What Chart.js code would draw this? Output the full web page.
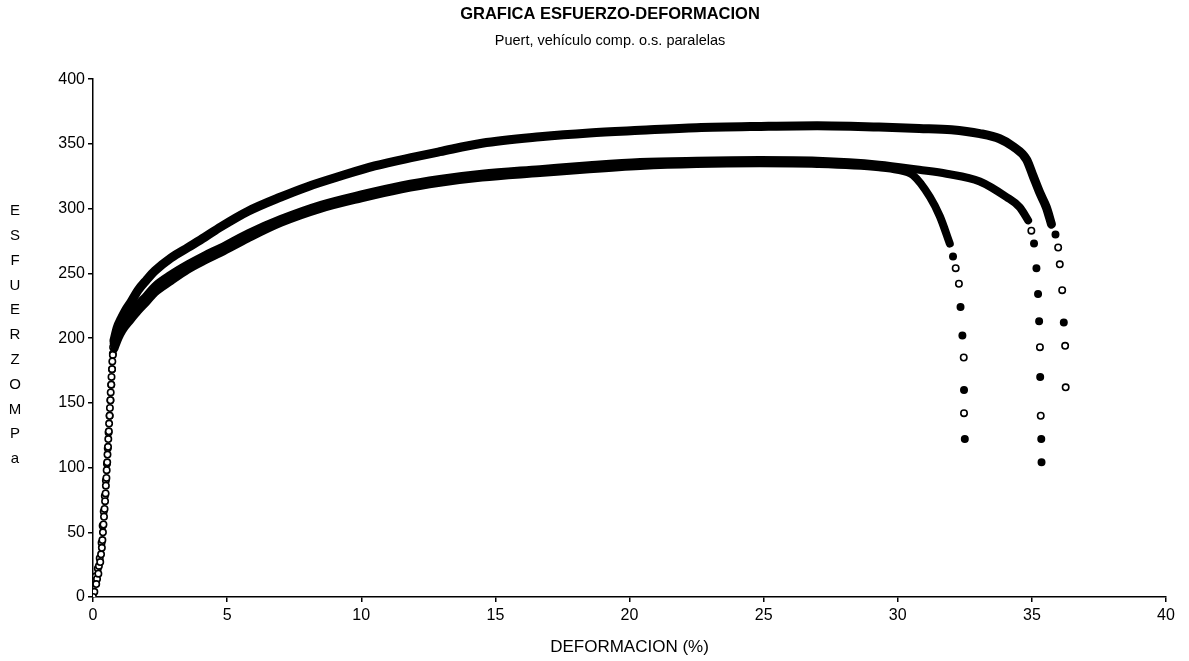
<!DOCTYPE html>
<html>
<head>
<meta charset="utf-8">
<title>Grafica esfuerzo-deformacion</title>
<script src="https://cdn.jsdelivr.net/npm/chart.js@4.4.0/dist/chart.umd.min.js"></script>
<style>
  html, body { margin: 0; padding: 0; background: #fff; }
  #contenedor { width: 1189px; height: 661px; }
</style>
</head>
<body>
<div id="contenedor"><canvas id="myChartEsfuerzo"></canvas></div>
<script>
// ---- probeta A (curva superior) ----
var inicioDefA = [0.0, 0.12, 0.2, 0.27, 0.33, 0.37, 0.41, 0.45, 0.48, 0.51, 0.54, 0.57, 0.6, 0.63, 0.66, 0.69, 0.72, 0.75];
var inicioEsfA = [0, 10, 18, 27, 38, 50, 62, 74, 86, 98, 110, 122, 134, 146, 158, 170, 182, 193];
var defA = [0.78, 0.9, 1.05, 1.2, 1.42, 1.68, 2.0, 2.31, 2.91, 3.54, 4.17, 4.77, 5.78, 7.0, 8.0, 9.2, 10.5, 12.0, 12.93, 14.5, 16.66, 18.5, 20.4, 22.5, 24.9, 27.0, 29.3, 30.8, 32.0, 33.06, 33.8, 34.3, 34.8, 35.05, 35.3, 35.54, 35.73];
var esfA = [198, 208, 215, 221, 228, 237, 245, 252, 262, 270, 278, 286, 298, 309, 317, 325, 333, 340, 344, 350.5, 355.5, 358.5, 360.5, 362.5, 363.5, 364, 363, 362, 361, 358, 354, 348, 338, 325, 312, 301, 288];
var colaDefA = [35.88, 35.98, 36.04, 36.13, 36.19, 36.24, 36.26];
var colaEsfA = [280, 270, 257, 237, 212, 194, 162];

// ---- probeta B ----
var inicioDefB = [0.05, 0.15, 0.22, 0.3, 0.35, 0.39, 0.43, 0.47, 0.5, 0.53, 0.56, 0.59, 0.62, 0.65, 0.68, 0.71, 0.74, 0.77];
var inicioEsfB = [4, 14, 24, 33, 44, 56, 68, 80, 92, 104, 116, 128, 140, 152, 164, 176, 187, 196];
var defB = [0.8, 0.95, 1.1, 1.4, 1.68, 2.0, 2.3, 2.9, 3.54, 4.17, 4.77, 5.78, 7.0, 8.5, 10.0, 11.5, 12.93, 14.5, 16.66, 18.5, 20.4, 22.5, 24.86, 27.0, 29.3, 30.8, 31.82, 33.06, 34.05, 34.55, 34.86];
var esfB = [196, 205, 211, 219, 226, 233, 240, 249, 257, 264, 270, 281, 292, 303, 311, 318, 323, 327, 330.5, 333.5, 336, 337, 337.5, 337, 334, 330, 327, 321, 309, 301, 291];
var colaDefB = [34.98, 35.08, 35.17, 35.23, 35.27, 35.30, 35.31, 35.33, 35.35, 35.36];
var colaEsfB = [283, 273, 254, 234, 213, 193, 170, 140, 122, 104];

// ---- probeta C ----
var inicioDefC = [0.1, 0.18, 0.25, 0.32, 0.36, 0.4, 0.44, 0.48, 0.52, 0.55, 0.58, 0.62, 0.65, 0.68, 0.71, 0.74];
var inicioEsfC = [16, 22, 30, 42, 55, 66, 78, 90, 103, 115, 127, 140, 152, 164, 176, 188];
var defC = [0.8, 0.95, 1.1, 1.4, 1.68, 2.0, 2.3, 2.9, 3.54, 4.17, 4.77, 5.78, 7.0, 8.5, 10.0, 11.5, 12.93, 14.5, 16.66, 18.5, 20.4, 22.5, 24.86, 27.0, 29.3, 30.0, 30.56, 31.2, 31.57, 31.94];
var esfC = [192, 200, 206, 214, 221, 228, 235, 244, 253, 260, 266, 277, 289, 300, 308, 315, 320, 324, 327.5, 330.5, 333, 334.5, 335, 334.5, 332, 330, 326, 309, 294, 273];
var colaDefC = [32.06, 32.16, 32.28, 32.34, 32.41, 32.46, 32.47, 32.47, 32.5];
var colaEsfC = [263, 254, 242, 224, 202, 185, 160, 142, 122];

// ejes
var ticksDef = [0, 40, 5];
var ticksEsf = [0, 400, 50];
var letrasEjeY = ['E', 'S', 'F', 'U', 'E', 'R', 'Z', 'O', 'M', 'P', 'a'];

// relleno de los puntos sueltos (negro = lleno, blanco = hueco)
var rellenoColaA = ['#000', '#fff', '#fff', '#fff', '#000', '#fff', '#fff'];
var rellenoColaB = ['#fff', '#000', '#000', '#000', '#000', '#fff', '#000', '#fff', '#000', '#000'];
var rellenoColaC = ['#000', '#fff', '#fff', '#000', '#000', '#fff', '#000', '#fff', '#000'];

var fuente = '"Liberation Sans", Arial, Helvetica, sans-serif';

function puntos(xs, ys) {
    var p = [];
    for (var i = 0; i < xs.length; i++) {
        p.push({ x: xs[i], y: ys[i] });
    }
    return p;
}

function banda(xs, ys, grosor) {
    return {
        data: puntos(xs, ys),
        showLine: true,
        borderColor: '#000',
        borderWidth: grosor,
        borderCapStyle: 'round',
        borderJoinStyle: 'round',
        cubicInterpolationMode: 'monotone',
        pointRadius: 0
    };
}

function sueltos(xs, ys, relleno) {
    return {
        data: puntos(xs, ys),
        showLine: false,
        pointStyle: 'circle',
        pointRadius: 3.2,
        pointBorderWidth: 1.6,
        pointBorderColor: '#000',
        pointBackgroundColor: relleno
    };
}

// titulo vertical del eje Y, letra por letra
var tituloVertical = {
    id: 'tituloVertical',
    afterDraw: function (chart) {
        var ctx = chart.ctx;
        var area = chart.chartArea;
        var paso = 24.8;
        var y0 = (area.top + area.bottom) / 2 - paso * (letrasEjeY.length - 1) / 2 - 3;
        ctx.save();
        ctx.fillStyle = '#000';
        ctx.font = '15px ' + fuente;
        ctx.textAlign = 'center';
        ctx.textBaseline = 'middle';
        for (var i = 0; i < letrasEjeY.length; i++) {
            ctx.fillText(letrasEjeY[i], 15, y0 + i * paso);
        }
        ctx.restore();
    }
};

window.onload = function () {
    var ctx = document.getElementById('myChartEsfuerzo').getContext('2d');
    var myChart = new Chart(ctx, {
        type: 'scatter',
        data: {
            datasets: [
                banda(defA, esfA, 9),
                banda(defB, esfB, 8),
                banda(defC, esfC, 8),
                sueltos(inicioDefA, inicioEsfA, '#fff'),
                sueltos(inicioDefB, inicioEsfB, '#fff'),
                sueltos(inicioDefC, inicioEsfC, '#fff'),
                sueltos(colaDefA, colaEsfA, rellenoColaA),
                sueltos(colaDefB, colaEsfB, rellenoColaB),
                sueltos(colaDefC, colaEsfC, rellenoColaC)
            ]
        },
        options: {
            responsive: true,
            maintainAspectRatio: false,
            animation: false,
            events: [],
            // el padding izquierdo desplaza el titulo hacia la derecha; el eje Y se ajusta abajo
            layout: {
                padding: { left: 54, right: 23, top: 0, bottom: 0 }
            },
            plugins: {
                legend: { display: false },
                tooltip: { enabled: false },
                title: {
                    display: true,
                    text: 'GRAFICA ESFUERZO-DEFORMACION',
                    color: '#000',
                    font: { family: fuente, size: 16.5, weight: 'bold' },
                    padding: { top: 5, bottom: 3 }
                },
                subtitle: {
                    display: true,
                    text: 'Puert, vehículo comp. o.s. paralelas',
                    color: '#000',
                    font: { family: fuente, size: 14.5 },
                    padding: { top: 4, bottom: 30 }
                }
            },
            scales: {
                x: {
                    type: 'linear',
                    min: ticksDef[0],
                    max: ticksDef[1],
                    ticks: {
                        stepSize: ticksDef[2],
                        color: '#000',
                        font: { family: fuente, size: 16 },
                        padding: 4
                    },
                    grid: {
                        drawOnChartArea: false,
                        drawTicks: true,
                        tickLength: 5,
                        color: '#000',
                        lineWidth: 1.5
                    },
                    border: { color: '#000', width: 1.5 },
                    title: {
                        display: true,
                        text: 'DEFORMACION (%)',
                        color: '#000',
                        font: { family: fuente, size: 17 },
                        padding: { top: 0, bottom: 3 }
                    },
                    afterFit: function (scale) {
                        scale.height = 64;
                    }
                },
                y: {
                    min: ticksEsf[0],
                    max: ticksEsf[1],
                    ticks: {
                        stepSize: ticksEsf[2],
                        color: '#000',
                        font: { family: fuente, size: 16 },
                        padding: 3
                    },
                    grid: {
                        drawOnChartArea: false,
                        drawTicks: true,
                        tickLength: 5,
                        color: '#000',
                        lineWidth: 1.5
                    },
                    border: { color: '#000', width: 1.5 },
                    afterFit: function (scale) {
                        scale.width = 39;
                    }
                }
            }
        },
        plugins: [tituloVertical]
    });
};
</script>
</body>
</html>
